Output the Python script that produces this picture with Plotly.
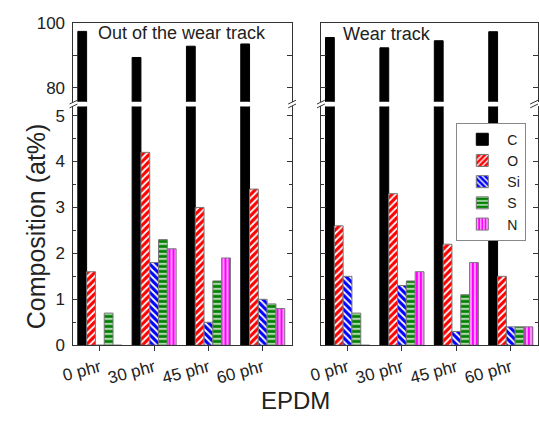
import plotly.graph_objects as go

categories = ["0 phr", "30 phr", "45 phr", "60 phr"]
elements = ["C", "O", "Si", "S", "N"]

# Out of the wear track
out_C = [97.5, 89.4, 92.9, 93.6]
out_O = [1.6, 4.2, 3.0, 3.4]
out_Si = [0.0, 1.8, 0.5, 1.0]
out_S = [0.7, 2.3, 1.4, 0.9]
out_N = [0.0, 2.1, 1.9, 0.8]

# Wear track
wt_C = [95.6, 92.4, 94.6, 97.4]
wt_O = [2.6, 3.3, 2.2, 1.5]
wt_Si = [1.5, 1.3, 0.3, 0.4]
wt_S = [0.7, 1.4, 1.1, 0.4]
wt_N = [0.0, 1.6, 1.8, 0.4]

out_vals = [out_C, out_O, out_Si, out_S, out_N]
wt_vals = [wt_C, wt_O, wt_Si, wt_S, wt_N]

W, H = 539, 424
FONT = "Liberation Sans, Arial, sans-serif"

styles = {
    "C": dict(color="black", pattern=dict(shape=""), line=dict(color="black", width=1)),
    "O": dict(color="#ff0000", pattern=dict(shape="/", fgcolor="white", bgcolor="#ff0000",
                                           fillmode="replace", size=5, solidity=0.35),
              line=dict(color="#777", width=1)),
    "Si": dict(color="#0000ff", pattern=dict(shape="\\", fgcolor="white", bgcolor="#0000ff",
                                            fillmode="replace", size=5, solidity=0.35),
               line=dict(color="#777", width=1)),
    "S": dict(color="#008000", pattern=dict(shape="-", fgcolor="white", bgcolor="#008000",
                                           fillmode="replace", size=5, solidity=0.3),
              line=dict(color="#777", width=1)),
    "N": dict(color="#ff00ff", pattern=dict(shape="|", fgcolor="white", bgcolor="#ff00ff",
                                           fillmode="replace", size=4, solidity=0.3),
              line=dict(color="#777", width=1)),
}

fig = go.Figure()
panels = [("x", "y", out_vals), ("x2", "y2", out_vals), ("x3", "y3", wt_vals), ("x4", "y4", wt_vals)]
first = True
for xa, ya, vals in panels:
    for el, v in zip(elements, vals):
        st = styles[el]
        fig.add_trace(go.Bar(
            x=categories, y=v, name=el, xaxis=xa, yaxis=ya,
            marker=dict(color=st["color"], pattern=st["pattern"], line=st["line"]),
            legendgroup=el, showlegend=first,
        ))
    first = False


def px_x(p):
    return p / W


def px_y(p):
    return (H - p) / H


left_dom = [px_x(63), px_x(287)]
right_dom = [px_x(316.5), 1.0]
low_dom = [px_y(352), px_y(102)]
up_dom = [px_y(97), px_y(15)]

axcol = "#333"
tickfont = dict(family=FONT, size=17, color="#222")


def xlow(dom, rng, anchor):
    return dict(domain=dom, range=rng, anchor=anchor, showline=True, linecolor=axcol, linewidth=1,
                ticks="outside", ticklen=5, tickcolor=axcol, tickangle=-15, tickfont=tickfont,
                showgrid=False, zeroline=False, mirror=False)


def xup(dom, rng, anchor):
    return dict(domain=dom, range=rng, anchor=anchor, side="top", showline=True, linecolor=axcol,
                linewidth=1, ticks="", showticklabels=False, showgrid=False, zeroline=False)


def ylow(dom, anchor, labels):
    return dict(domain=dom, range=[0, 5.2], anchor=anchor, showline=True, linecolor=axcol, linewidth=1,
                mirror="ticks", ticks="inside", ticklen=5, tickcolor=axcol, dtick=1, tick0=0,
                minor=dict(dtick=0.5, ticks="inside", ticklen=3, tickcolor=axcol),
                showticklabels=labels, tickfont=tickfont, ticklabelstandoff=4,
                showgrid=False, zeroline=False)


def yup(dom, anchor, labels):
    return dict(domain=dom, range=[75.7, 100], anchor=anchor, showline=True, linecolor=axcol, linewidth=1,
                mirror="ticks", ticks="inside", ticklen=5, tickcolor=axcol, dtick=20, tick0=0,
                minor=dict(dtick=10, ticks="inside", ticklen=5, tickcolor=axcol),
                showticklabels=labels, tickfont=tickfont, ticklabelstandoff=4,
                showgrid=False, zeroline=False)


lrng = [-0.485, 3.54]
rrng = [-0.49, 3.5]

fig.update_layout(
    width=W, height=H, margin=dict(l=0, r=0, t=0, b=0),
    paper_bgcolor="white", plot_bgcolor="white",
    barmode="group", bargap=0.19, bargroupgap=0,
    font=dict(family=FONT, color="#222"),
    xaxis=xlow(left_dom, lrng, "y"), yaxis=ylow(low_dom, "x", True),
    xaxis2=xup(left_dom, lrng, "y2"), yaxis2=yup(up_dom, "x2", True),
    xaxis3=xlow(right_dom, rrng, "y3"), yaxis3=ylow(low_dom, "x3", False),
    xaxis4=xup(right_dom, rrng, "y4"), yaxis4=yup(up_dom, "x4", False),
    legend=dict(x=px_x(527), y=px_y(119), xanchor="right", yanchor="top",
                bgcolor="white", bordercolor="#888", borderwidth=1,
                font=dict(family=FONT, size=14, color="#222"),
                tracegroupgap=0, itemwidth=40),
)

annotations = [
    dict(text="Out of the wear track", x=px_x(86), y=px_y(25), xref="paper", yref="paper",
         xanchor="left", yanchor="middle", showarrow=False, font=dict(family=FONT, size=18, color="#222")),
    dict(text="Wear track", x=px_x(337), y=px_y(26), xref="paper", yref="paper",
         xanchor="left", yanchor="middle", showarrow=False, font=dict(family=FONT, size=18, color="#222")),
    dict(text="Composition (at%)", x=px_x(24), y=px_y(227), xref="paper", yref="paper",
         xanchor="center", yanchor="middle", textangle=-90, showarrow=False,
         font=dict(family=FONT, size=25, color="#222")),
    dict(text="EPDM", x=px_x(291), y=px_y(410), xref="paper", yref="paper",
         xanchor="center", yanchor="middle", showarrow=False, font=dict(family=FONT, size=24, color="#222")),
]
fig.update_layout(annotations=annotations)

# axis-break marks
shapes = []
for xp in [63, 287, 316.5, 535]:
    for dy in [-2, 2]:
        yc = 99.5 + dy
        shapes.append(dict(type="line", xref="paper", yref="paper",
                           x0=px_x(xp - 4), y0=px_y(yc + 2), x1=px_x(xp + 4), y1=px_y(yc - 2),
                           line=dict(color=axcol, width=1)))
fig.update_layout(shapes=shapes)

fig.write_html("out.html")
